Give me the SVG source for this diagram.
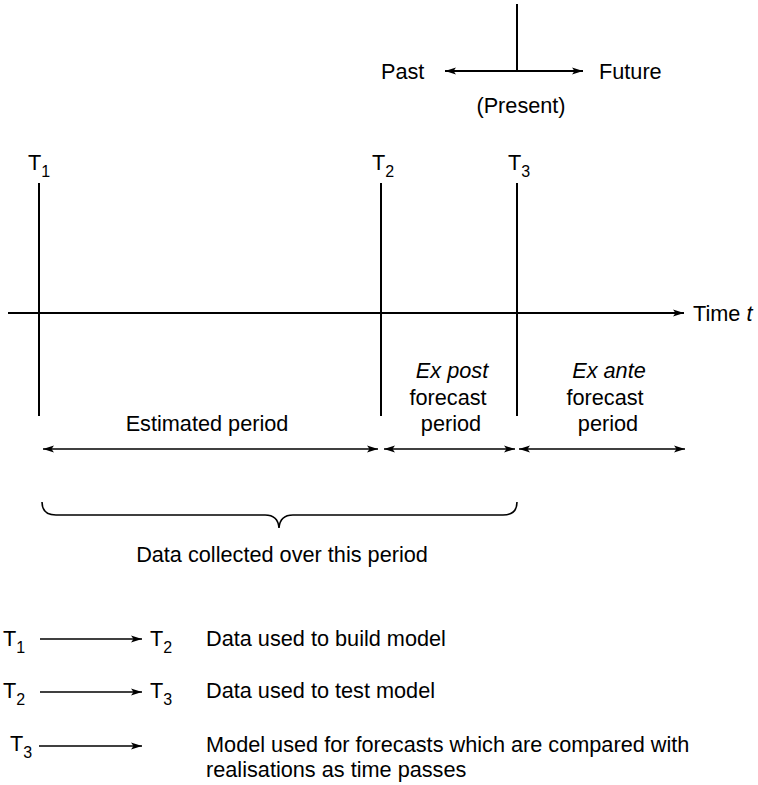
<svg xmlns="http://www.w3.org/2000/svg" width="758" height="785" viewBox="0 0 758 785">
<style>
text{font-family:"Liberation Sans",Arial,Helvetica,sans-serif;font-size:21.7px;fill:#000}
.sub{font-size:16px}
.it{font-style:italic}
.mid{text-anchor:middle}
.ln{stroke:#000;stroke-width:2;fill:none}
.dim{stroke:#000;stroke-width:1.6;fill:none}
</style>
<defs>
<marker id="ah" markerUnits="userSpaceOnUse" markerWidth="12" markerHeight="8" refX="11" refY="4" orient="auto-start-reverse" viewBox="0 0 12 8">
<path d="M0,0.5 L11,4 L0,7.5 L2.5,4 Z" fill="#000"/>
</marker>
</defs>

<g id="present">
<line class="ln" x1="517" y1="4" x2="517" y2="71"/>
<text x="381" y="79">Past</text>
<text x="599" y="79">Future</text>
<text class="mid" x="521" y="113">(Present)</text>
</g>

<g id="T1-marker">
<text x="28" y="170">T<tspan class="sub" dy="7">1</tspan></text>
<line class="ln" x1="39" y1="183" x2="39" y2="416"/>
</g>
<g id="T2-marker">
<text x="372" y="170">T<tspan class="sub" dy="7">2</tspan></text>
<line class="ln" x1="381" y1="183" x2="381" y2="416"/>
</g>
<g id="T3-marker">
<text x="508" y="170">T<tspan class="sub" dy="7">3</tspan></text>
<line class="ln" x1="517" y1="183" x2="517" y2="416"/>
</g>

<g id="time-axis">
<text x="693" y="321">Time <tspan class="it">t</tspan></text>
</g>

<g id="estimated-period">
<text class="mid" x="207" y="431">Estimated period</text>
</g>
<g id="ex-post">
<text class="mid it" x="452" y="378">Ex post</text>
<text class="mid" x="448" y="405">forecast</text>
<text class="mid" x="451" y="431">period</text>
</g>
<g id="ex-ante">
<text class="mid it" x="609" y="378">Ex ante</text>
<text class="mid" x="605" y="405">forecast</text>
<text class="mid" x="608" y="431">period</text>
</g>

<g id="data-collected">
<path class="dim" d="M42,502 Q42,515 56,515 L265,515 Q278,515 279,528 Q280,515 293,515 L503,515 Q517,515 517,502"/>
<text class="mid" x="282" y="562">Data collected over this period</text>
</g>

<g id="legend-row1">
<text x="3" y="646">T<tspan class="sub" dy="7">1</tspan></text>
<text x="150" y="646">T<tspan class="sub" dy="7">2</tspan></text>
<text x="206" y="646">Data used to build model</text>
</g>
<g id="legend-row2">
<text x="3" y="698">T<tspan class="sub" dy="7">2</tspan></text>
<text x="150" y="698">T<tspan class="sub" dy="7">3</tspan></text>
<text x="206" y="698">Data used to test model</text>
</g>
<g id="legend-row3">
<text x="10" y="751">T<tspan class="sub" dy="7">3</tspan></text>
<text x="206" y="752">Model used for forecasts which are compared with</text>
<text x="206" y="777">realisations as time passes</text>
</g>

<g id="connectors">
<line class="ln" x1="517" y1="71" x2="445" y2="71" marker-end="url(#ah)"/>
<line class="ln" x1="517" y1="71" x2="583" y2="71" marker-end="url(#ah)"/>
<line class="ln" x1="8" y1="313" x2="684" y2="313" marker-end="url(#ah)"/>
<line class="dim" x1="43" y1="449" x2="378" y2="449" marker-start="url(#ah)" marker-end="url(#ah)"/>
<line class="dim" x1="384" y1="449" x2="515" y2="449" marker-start="url(#ah)" marker-end="url(#ah)"/>
<line class="dim" x1="519" y1="449" x2="685" y2="449" marker-start="url(#ah)" marker-end="url(#ah)"/>
<line class="dim" x1="40" y1="639" x2="142" y2="639" marker-end="url(#ah)"/>
<line class="dim" x1="40" y1="692" x2="142" y2="692" marker-end="url(#ah)"/>
<line class="dim" x1="39" y1="746" x2="142" y2="746" marker-end="url(#ah)"/>
</g>
</svg>
